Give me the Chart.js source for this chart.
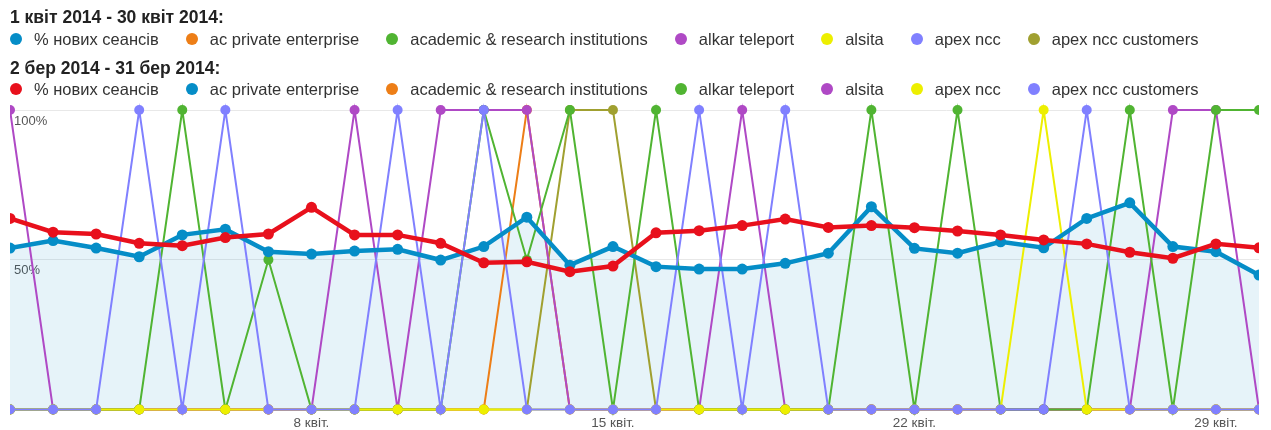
<!DOCTYPE html>
<html>
<head>
<meta charset="utf-8">
<script src="https://cdn.jsdelivr.net/npm/chart.js@4.4.1/dist/chart.umd.min.js"></script>
<style>
    html, body { margin: 0; padding: 0; background: #fff; }
    #wrap { position: relative; width: 1271px; height: 430px; overflow: hidden; font-family: Arial, "Liberation Sans", sans-serif; }
    #chart { position: absolute; left: 0; top: 0; }
    .hdr { position: absolute; left: 10px; font-weight: bold; font-size: 17.5px; color: #222; line-height: 20px; white-space: nowrap; }
    .row { position: absolute; left: 10px; display: flex; align-items: center; font-size: 16.5px; color: #333; line-height: 20px; white-space: nowrap; }
    .item { display: flex; align-items: center; margin-right: 27px; }
    .dot { width: 12px; height: 12px; border-radius: 50%; margin-right: 12px; }
</style>
</head>
<body>
<div id="wrap">
    <canvas id="chart" width="1271" height="430"></canvas>
    <div class="hdr" id="hdr1" style="top:7px"></div>
    <div class="row" id="row1" style="top:29px"></div>
    <div class="hdr" id="hdr2" style="top:58px"></div>
    <div class="row" id="row2" style="top:79px"></div>
</div>
<script>
// periods and legend entries
var curPeriod = '1 квіт 2014 - 30 квіт 2014:';
var prevPeriod = '2 бер 2014 - 31 бер 2014:';
var curNames = ['% нових сеансів', 'ac private enterprise', 'academic & research institutions', 'alkar teleport', 'alsita', 'apex ncc', 'apex ncc customers'];
var prevNames = ['% нових сеансів', 'ac private enterprise', 'academic & research institutions', 'alkar teleport', 'alsita', 'apex ncc', 'apex ncc customers'];
var curColors = ['#058dc7', '#ed7e17', '#50b432', '#af49c5', '#edef00', '#8080ff', '#a0a030'];
var prevColors = ['#e8101c', '#058dc7', '#ed7e17', '#50b432', '#af49c5', '#edef00', '#8080ff'];

var days = ['1 квіт.', '2 квіт.', '3 квіт.', '4 квіт.', '5 квіт.', '6 квіт.', '7 квіт.', '8 квіт.', '9 квіт.', '10 квіт.',
    '11 квіт.', '12 квіт.', '13 квіт.', '14 квіт.', '15 квіт.', '16 квіт.', '17 квіт.', '18 квіт.', '19 квіт.', '20 квіт.',
    '21 квіт.', '22 квіт.', '23 квіт.', '24 квіт.', '25 квіт.', '26 квіт.', '27 квіт.', '28 квіт.', '29 квіт.', '30 квіт.'];
var shownDays = ['8 квіт.', '15 квіт.', '22 квіт.', '29 квіт.'];

// % new sessions
var curNew = [53.9, 56.4, 53.9, 51.0, 58.3, 60.2, 52.7, 51.9, 52.9, 53.5, 49.9, 54.4, 64.2, 48.2, 54.4,
    47.7, 46.9, 46.9, 48.8, 52.2, 67.7, 53.8, 52.2, 56.0, 54.0, 63.8, 69.0, 54.4, 52.7, 44.9];
var prevNew = [63.8, 59.2, 58.6, 55.5, 54.7, 57.4, 58.6, 67.5, 58.3, 58.3, 55.5, 49.0, 49.3, 46.0, 47.9,
    59.0, 59.7, 61.4, 63.6, 60.8, 61.4, 60.7, 59.6, 58.3, 56.6, 55.3, 52.5, 50.5, 55.3, 54.0];

// segments (current period)
var acPrivate  = [0, 0, 0, 0, 0, 0, 0, 0, 0, 0, 0, 0, 100, 0, 0, 0, 0, 0, 0, 0, 0, 0, 0, 0, 0, 0, 0, 0, 0, 0];
var academic   = [0, 0, 0, 0, 100, 0, 50, 0, 0, 0, 0, 100, 50, 100, 0, 100, 0, 0, 0, 0, 100, 0, 100, 0, 0, 0, 100, 0, 100, 100];
var alkar      = [100, 0, 0, 0, 0, 0, 0, 0, 100, 0, 100, 100, 100, 0, 0, 0, 0, 100, 0, 0, 0, 0, 0, 0, 0, 0, 0, 100, 100, 0];
var alsita     = [0, 0, 0, 0, 0, 0, 0, 0, 0, 0, 0, 0, 0, 0, 0, 0, 0, 0, 0, 0, 0, 0, 0, 0, 100, 0, 0, 0, 0, 0];
var apexNcc    = [0, 0, 0, 100, 0, 100, 0, 0, 0, 100, 0, 100, 0, 0, 0, 0, 100, 0, 100, 0, 0, 0, 0, 0, 0, 100, 0, 0, 0, 0];
var apexCust   = [0, 0, 0, 0, 0, 0, 0, 0, 0, 0, 0, 0, 0, 100, 100, 0, 0, 0, 0, 0, 0, 0, 0, 0, 0, 0, 0, 0, 0, 0];

// html legend
function buildLegend(hdrId, rowId, title, names, colors) {
    document.getElementById(hdrId).textContent = title;
    var row = document.getElementById(rowId);
    names.forEach(function (n, i) {
        var it = document.createElement('div');
        it.className = 'item';
        var d = document.createElement('span');
        d.className = 'dot';
        d.style.background = colors[i];
        var t = document.createElement('span');
        t.textContent = n;
        it.appendChild(d);
        it.appendChild(t);
        row.appendChild(it);
    });
}
buildLegend('hdr1', 'row1', curPeriod, curNames, curColors);
buildLegend('hdr2', 'row2', prevPeriod, prevNames, prevColors);

var clipSides = { left: 0, right: 0, top: false, bottom: false };

function thin(label, data, color, order) {
    return {
        label: label, data: data, borderColor: color, backgroundColor: color,
        pointBackgroundColor: color, borderWidth: 2, pointRadius: 5, pointBorderWidth: 0,
        tension: 0, fill: false, order: order, clip: clipSides
    };
}

new Chart(document.getElementById('chart'), {
    type: 'line',
    data: {
        labels: days,
        datasets: [
            {
                label: prevNames[0], data: prevNew, borderColor: prevColors[0], pointBackgroundColor: prevColors[0],
                borderWidth: 4.5, pointRadius: 5.5, pointBorderWidth: 0, tension: 0, fill: false, order: 0, clip: clipSides
            },
            {
                label: curNames[0], data: curNew, borderColor: curColors[0], pointBackgroundColor: curColors[0],
                backgroundColor: 'rgba(5,141,199,0.1)', borderWidth: 4.5, pointRadius: 5.5, pointBorderWidth: 0,
                tension: 0, fill: 'origin', order: 1, clip: clipSides
            },
            thin(curNames[5], apexNcc, curColors[5], 2),
            thin(curNames[4], alsita, curColors[4], 3),
            thin(curNames[2], academic, curColors[2], 4),
            thin(curNames[3], alkar, curColors[3], 5),
            thin(curNames[1], acPrivate, curColors[1], 6),
            thin(curNames[6], apexCust, curColors[6], 7)
        ]
    },
    options: {
        responsive: false,
        animation: false,
        devicePixelRatio: 1,
        layout: { padding: { left: 10, right: 12, top: 110, bottom: 0 } },
        plugins: {
            legend: { display: false },
            tooltip: { enabled: false },
            filler: { drawTime: 'beforeDatasetsDraw' }
        },
        scales: {
            x: {
                offset: false,
                grid: { display: false, drawTicks: false },
                border: { display: false },
                afterFit: function (s) { s.height = 20.5; },
                ticks: {
                    autoSkip: false, maxRotation: 0, padding: 6,
                    color: '#555', font: { family: 'Arial', size: 13.5 },
                    callback: function (v, i) { return shownDays.indexOf(days[i]) >= 0 ? days[i] : ''; }
                }
            },
            y: {
                min: 0, max: 100,
                grid: {
                    drawTicks: false,
                    color: function (c) { return c.tick && c.tick.value === 0 ? 'rgba(0,0,0,0)' : '#e8e8e8'; }
                },
                border: { display: false },
                afterFit: function (s) { s.width = 0; },
                ticks: {
                    stepSize: 50, mirror: true, padding: 4, labelOffset: 11,
                    color: '#555', font: { family: 'Arial', size: 13 },
                    callback: function (v) { return v === 0 ? '' : v + '%'; }
                }
            }
        }
    }
});
</script>
</body>
</html>
